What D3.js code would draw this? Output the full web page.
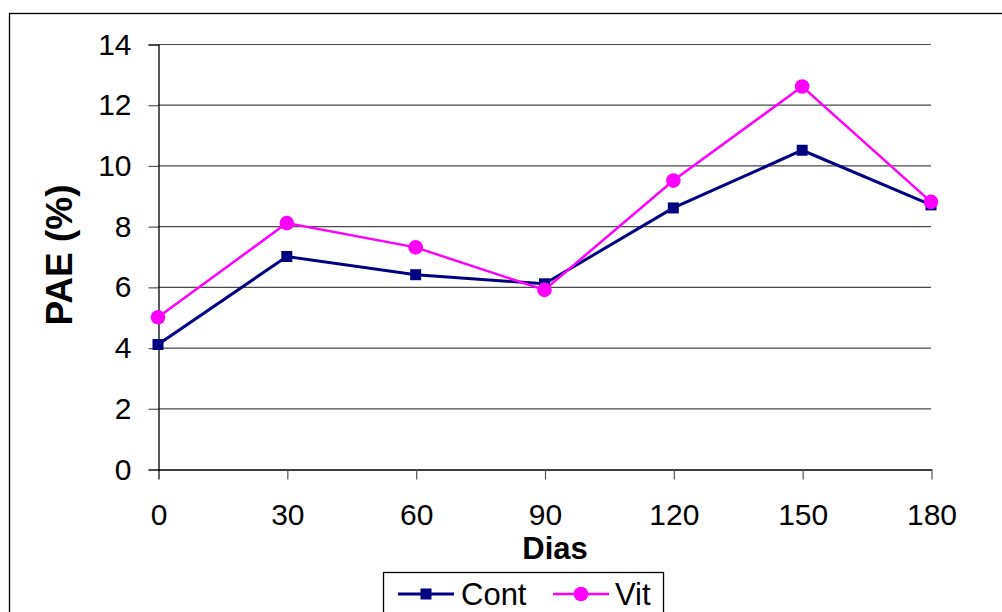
<!DOCTYPE html>
<html><head><meta charset="utf-8">
<script src="https://cdn.jsdelivr.net/npm/d3@7"></script>
<style>body{margin:0;background:#fff}svg{display:block}</style>
</head><body>
<script>
const days = [0, 30, 60, 90, 120, 150, 180];
const cont = [4.1, 7.0, 6.4, 6.1, 8.6, 10.5, 8.7];
const vit = [5.0, 8.1, 7.3, 5.9, 9.5, 12.6, 8.8];
const yTicks = [0, 2, 4, 6, 8, 10, 12, 14];
const seriesNames = ["Cont", "Vit"];

(function () {
const W = 1002, H = 612;
const pLeft = 158, pRight = 931, pTop = 44, pBottom = 469;
const font = "Arial, 'Liberation Sans', sans-serif";

const svg = d3.select("body").append("svg").attr("width", W).attr("height", H);
svg.append("rect").attr("x", 9.5).attr("y", 13.5).attr("width", 1100).attr("height", 700)
  .attr("fill", "#fff").attr("stroke", "#000").attr("stroke-width", 1.3);

const x = d3.scaleLinear().domain([0, 180]).range([pLeft, pRight]);
const y = d3.scaleLinear().domain([0, 14]).range([pBottom, pTop]);

// gridlines
svg.append("g").selectAll("line").data(yTicks.filter(d => d > 0)).join("line")
  .attr("x1", pLeft).attr("x2", pRight)
  .attr("y1", d => y(d) + 0.5).attr("y2", d => y(d) + 0.5)
  .attr("stroke", "#4a4a4a").attr("stroke-width", 1.2);

// y axis
const yAxis = svg.append("g").attr("transform", `translate(${pLeft + 0.5},0.5)`)
  .call(d3.axisLeft(y).tickValues(yTicks).tickSize(10).tickPadding(17).tickFormat(d3.format("d")));
yAxis.select(".domain").attr("stroke", "#000").attr("stroke-width", 1.3);
yAxis.selectAll(".tick line").attr("stroke", "#555").attr("stroke-width", 1.2);
yAxis.selectAll("text").attr("font-family", font).attr("font-size", 30).attr("fill", "#000");

// x axis
const xAxis = svg.append("g").attr("transform", `translate(0.5,${pBottom + 0.5})`)
  .call(d3.axisBottom(x).tickValues(days).tickSize(10).tickPadding(24).tickSizeOuter(0));
xAxis.select(".domain").attr("stroke", "#000").attr("stroke-width", 1.3);
xAxis.selectAll(".tick line").attr("stroke", "#555").attr("stroke-width", 1.2);
xAxis.selectAll(".tick").filter(d => d === 0).select("line").attr("stroke", "#000");
xAxis.selectAll("text").attr("font-family", font).attr("font-size", 30).attr("fill", "#000");

// axis titles
svg.append("text").attr("x", 555).attr("y", 559).attr("text-anchor", "middle")
  .attr("font-family", font).attr("font-weight", "bold").attr("font-size", 31).text("Dias");
svg.append("text").attr("transform", "translate(72,255) rotate(-90)").attr("text-anchor", "middle")
  .attr("font-family", font).attr("font-weight", "bold").attr("font-size", 37).text("PAE (%)");

// lines
const line = d3.line().x((d, i) => x(days[i])).y(d => y(d));
svg.append("path").datum(cont).attr("d", line).attr("fill", "none")
  .attr("stroke", "#000080").attr("stroke-width", 3);
svg.append("path").datum(vit).attr("d", line).attr("fill", "none")
  .attr("stroke", "#FF00FF").attr("stroke-width", 2.5);

// markers
svg.append("g").selectAll("rect").data(cont).join("rect")
  .attr("x", (d, i) => x(days[i]) - 5.5).attr("y", d => y(d) - 5.5)
  .attr("width", 11).attr("height", 11).attr("fill", "#000080");
svg.append("g").selectAll("circle").data(vit).join("circle")
  .attr("cx", (d, i) => x(days[i])).attr("cy", d => y(d)).attr("r", 7.3).attr("fill", "#FF00FF");

// legend
const lg = svg.append("g");
lg.append("rect").attr("x", 383.5).attr("y", 572.5).attr("width", 280).attr("height", 60)
  .attr("fill", "#fff").attr("stroke", "#000").attr("stroke-width", 1.3);
const legendItems = [
  { name: seriesNames[0], color: "#000080", x0: 398, marker: "square", tx: 461, sw: 3 },
  { name: seriesNames[1], color: "#FF00FF", x0: 553, marker: "circle", tx: 615, sw: 2.5 }
];
legendItems.forEach(it => {
  lg.append("line").attr("x1", it.x0).attr("x2", it.x0 + 56).attr("y1", 594).attr("y2", 594)
    .attr("stroke", it.color).attr("stroke-width", it.sw);
  if (it.marker === "square") {
    lg.append("rect").attr("x", it.x0 + 28 - 5.5).attr("y", 594 - 5.5).attr("width", 11).attr("height", 11).attr("fill", it.color);
  } else {
    lg.append("circle").attr("cx", it.x0 + 28).attr("cy", 594).attr("r", 7.3).attr("fill", it.color);
  }
  lg.append("text").attr("x", it.tx).attr("y", 605).attr("font-family", font).attr("font-size", 31).text(it.name);
});
})();
</script>
</body></html>
